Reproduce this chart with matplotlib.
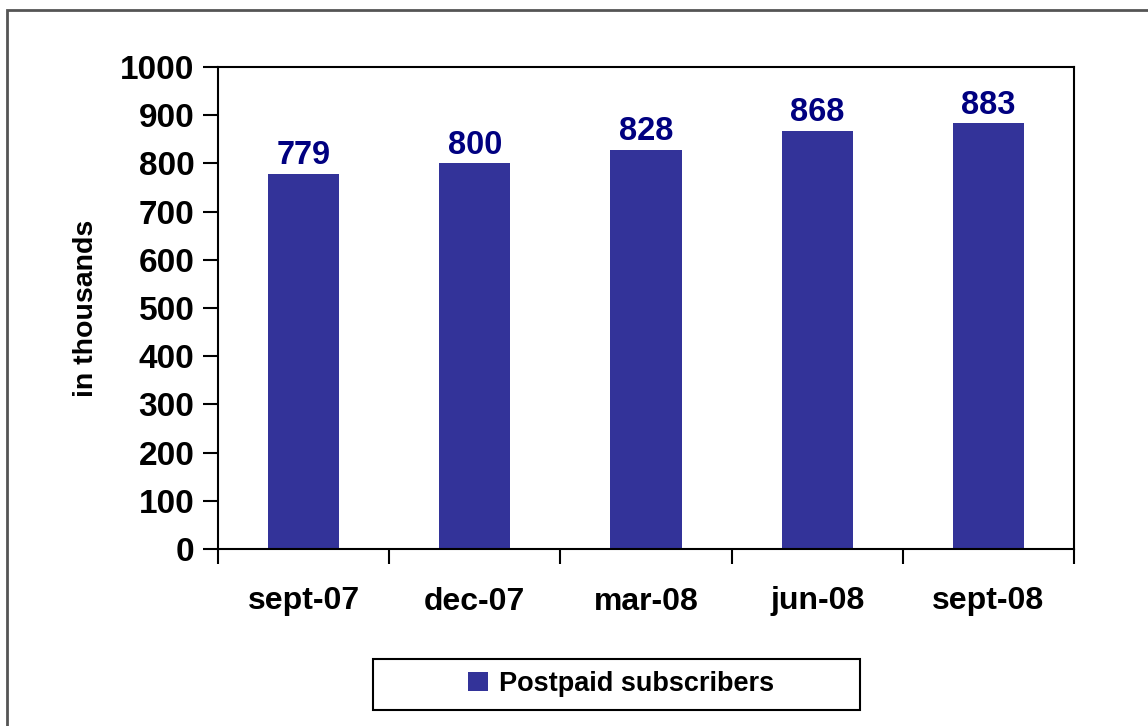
import matplotlib
matplotlib.use("Agg")
import matplotlib.pyplot as plt
from matplotlib.patches import Rectangle

plt.rcParams.update({"font.family": "Liberation Sans", "font.weight": "bold"})

periods = ["sept-07", "dec-07", "mar-08", "jun-08", "sept-08"]
subscribers = [779, 800, 828, 868, 883]
series_name = "Postpaid subscribers"

BAR = "#333399"
LABEL = "#000080"
W, H = 1148, 726

fig = plt.figure(figsize=(W / 100, H / 100), dpi=100)
ax = fig.add_axes([218 / W, 1 - 549 / H, (1074 - 218) / W, (549 - 67) / H])

x = range(len(periods))
ax.bar(x, subscribers, width=0.415, color=BAR, label=series_name, zorder=2)
for xi, v in zip(x, subscribers):
    ax.annotate(str(v), (xi, v), xytext=(0, 2), textcoords="offset points",
                ha="center", va="bottom", color=LABEL, fontsize=23.5, fontweight="bold")

ax.set_xlim(-0.5, len(periods) - 0.5)
ax.set_ylim(0, 1000)
ax.set_yticks(range(0, 1001, 100))
ax.set_xticks(list(x))
ax.set_xticklabels(periods)
ax.set_xticks([i - 0.5 for i in range(len(periods) + 1)], minor=True)
ax.tick_params(axis="x", which="major", length=0, pad=27, labelsize=23)
ax.tick_params(axis="x", which="minor", length=11, width=1.5, direction="out")
ax.tick_params(axis="y", length=11, width=1.5, direction="out", pad=6, labelsize=24)
for s in ax.spines.values():
    s.set_linewidth(1.5)
    s.set_color("black")
ax.set_ylabel("in thousands", fontsize=20.5, fontweight="bold", labelpad=15)

# legend: centred entry inside a wide box
ax.legend(loc="center", bbox_to_anchor=(621 / W, 1 - 684 / H),
          bbox_transform=fig.transFigure, fontsize=19.5, frameon=False,
          handlelength=0.75, handleheight=0.75, handletextpad=0.4, borderaxespad=0)
fig.patches.append(Rectangle((373 / W, 1 - 710 / H), (860 - 373) / W, (710 - 659) / H,
                             transform=fig.transFigure, fill=False,
                             edgecolor="black", linewidth=1.5))

# outer chart border (cropped on right and bottom)
fig.patches.append(Rectangle((7 / W, -0.1), 1.2, 1 - 10 / H + 0.1,
                             transform=fig.transFigure, fill=False,
                             edgecolor="#555555", linewidth=2))

fig.savefig("out.png", dpi=100)
